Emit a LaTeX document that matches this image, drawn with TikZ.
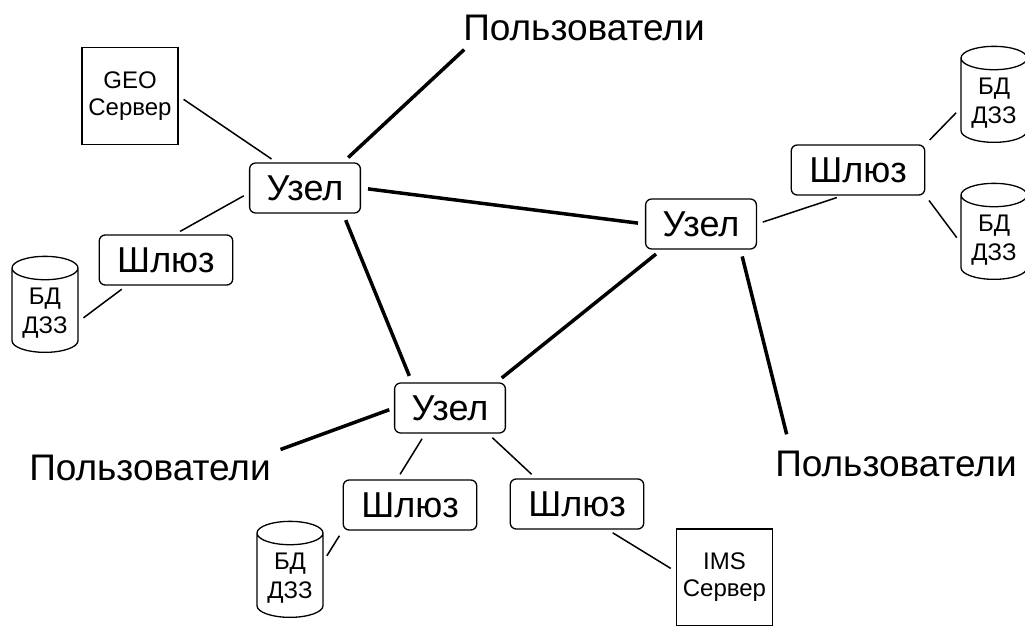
\documentclass[tikz,border=0pt]{standalone}
\usepackage{fontspec}
\setmainfont{Liberation Sans}
\usetikzlibrary{shapes.geometric}

\begin{document}
\begin{tikzpicture}[x=1pt,y=-1pt,
    uzel/.style={draw,rounded corners=6pt,line width=1.3pt,minimum height=50pt,inner xsep=17pt,font=\fontsize{36}{40}\selectfont},
    shluz/.style={uzel,inner xsep=18pt},
    server/.style={draw,line width=1.3pt,minimum width=96pt,minimum height=97pt,align=center,font=\fontsize{24}{27}\selectfont},
    bd/.style={draw,cylinder,shape border rotate=90,aspect=0.45,line width=1.3pt,minimum width=66pt,minimum height=96pt,align=center,anchor=bottom,font=\fontsize{24}{29}\selectfont},
    users/.style={inner sep=3pt,font=\fontsize{37}{40}\selectfont},
    trunk/.style={line width=3.5pt,shorten <=7pt,shorten >=7pt},
    link/.style={line width=1.5pt,shorten <=6pt,shorten >=6pt}]
\useasboundingbox (0,0) rectangle (1025,626);
\node[users] (usersTop) at (584,28) {Пользователи};
\node[users] (usersLeft) at (150,468) {Пользователи};
\node[users] (usersRight) at (896,464) {Пользователи};
\node[server] (geo) at (130,96) {GEO\\Сервер};
\node[server] (ims) at (724.5,577.5) {IMS\\Сервер};
\node[uzel] (uzelA) at (305,188) {Узел};
\node[uzel] (uzelB) at (701,224) {Узел};
\node[uzel] (uzelC) at (450,408) {Узел};
\node[shluz] (gwA) at (166,260) {Шлюз};
\node[shluz] (gwB) at (858,170) {Шлюз};
\node[shluz] (gwC1) at (410,505) {Шлюз};
\node[shluz] (gwC2) at (577,504) {Шлюз};
\node[bd] (dbA) at (45,353) {БД\\ДЗЗ};
\node[bd] (dbB1) at (994,143) {БД\\ДЗЗ};
\node[bd] (dbB2) at (994,280) {БД\\ДЗЗ};
\node[bd] (dbC) at (290,618) {БД\\ДЗЗ};
\draw[trunk,shorten >=8pt] (uzelA.34) -- ([xshift=10pt]usersTop.south west);
\draw[trunk] (uzelA.east) -- (uzelB.west);
\draw[trunk] (uzelA.326) -- (uzelC.146);
\draw[trunk] (uzelB.213) -- (uzelC.29);
\draw[trunk,shorten >=14pt] (uzelB.327) -- ([xshift=18pt]usersRight.north west);
\draw[trunk,shorten <=5pt] (uzelC.west) -- (usersLeft.north east);
\draw[link] (geo.east) -- (uzelA.138);
\draw[link] (uzelA.185) -- (gwA.71);
\draw[link] (gwA.213) -- (dbA.346);
\draw[link] (uzelB.east) -- (gwB.239);
\draw[link] (gwB.north east) -- (dbB1.189);
\draw[link] (gwB.south east) -- (dbB2.184);
\draw[link] (uzelC.226) -- (gwC1.117);
\draw[link] (uzelC.326) -- (gwC2.148);
\draw[link] (gwC1.south west) -- (dbC.27);
\draw[link] (gwC2.320) -- (ims.173);
\end{tikzpicture}
\end{document}
